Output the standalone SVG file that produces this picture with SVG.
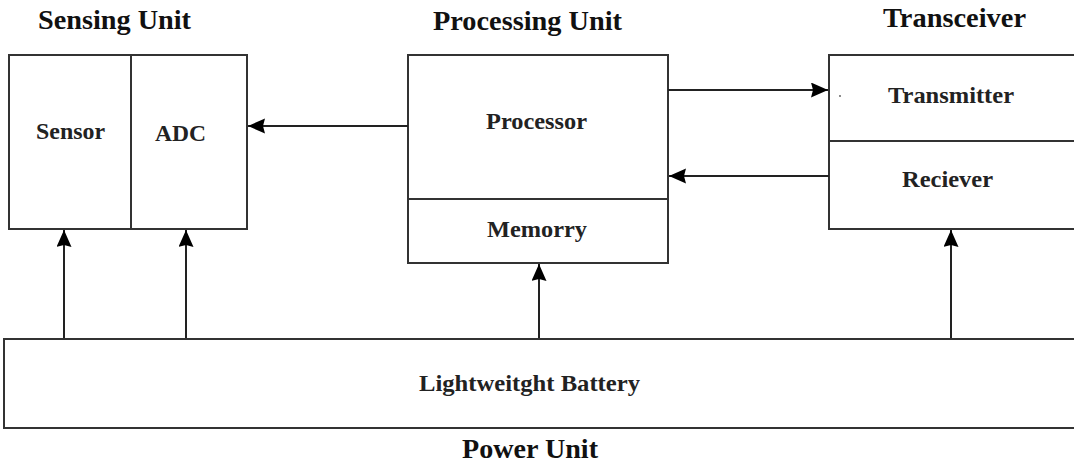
<svg xmlns="http://www.w3.org/2000/svg" width="1074" height="463" viewBox="0 0 1074 463">
  <style>
    .box { fill: #ffffff; stroke: #333333; stroke-width: 2; }
    .div { stroke: #333333; stroke-width: 2; fill: none; }
    .title { font-family: "Liberation Serif", "Times New Roman", serif; font-weight: bold; font-size: 27px; fill: #111111; }
    .lbl { font-family: "Liberation Serif", "Times New Roman", serif; font-weight: bold; font-size: 24px; fill: #222222; }
    .conn { stroke: #222222; stroke-width: 2; fill: none; }
  </style>
  <defs>
    <marker id="arrow" markerUnits="userSpaceOnUse" markerWidth="18" markerHeight="16" refX="17" refY="7.5" orient="auto">
      <path d="M0,0 L17,7.5 L0,15 L2,7.5 z" fill="#000000"/>
    </marker>
  </defs>
  <rect width="1074" height="463" fill="#ffffff"/>

  <g id="sensing-unit">
    <text class="title" x="38" y="29" textLength="153" lengthAdjust="spacingAndGlyphs">Sensing Unit</text>
    <rect class="box" x="9" y="55" width="238" height="174"/>
    <line class="div" x1="131" y1="55" x2="131" y2="229"/>
    <text class="lbl" x="36" y="139" textLength="69" lengthAdjust="spacingAndGlyphs">Sensor</text>
    <text class="lbl" x="155" y="141" textLength="51" lengthAdjust="spacingAndGlyphs">ADC</text>
  </g>

  <g id="processing-unit">
    <text class="title" x="433" y="30" textLength="189" lengthAdjust="spacingAndGlyphs">Processing Unit</text>
    <rect class="box" x="408" y="55" width="260" height="208"/>
    <line class="div" x1="408" y1="199" x2="668" y2="199"/>
    <text class="lbl" x="486" y="129" textLength="101" lengthAdjust="spacingAndGlyphs">Processor</text>
    <text class="lbl" x="487" y="237" textLength="100" lengthAdjust="spacingAndGlyphs">Memorry</text>
  </g>

  <g id="transceiver">
    <text class="title" x="883" y="27" textLength="143" lengthAdjust="spacingAndGlyphs">Transceiver</text>
    <rect class="box" x="829" y="55" width="260" height="174"/>
    <line class="div" x1="829" y1="141" x2="1074" y2="141"/>
    <circle cx="840" cy="96" r="0.9" fill="#555555"/>
    <text class="lbl" x="888" y="103" textLength="126" lengthAdjust="spacingAndGlyphs">Transmitter</text>
    <text class="lbl" x="902" y="187" textLength="91" lengthAdjust="spacingAndGlyphs">Reciever</text>
  </g>

  <g id="power-unit">
    <rect class="box" x="4" y="339" width="1085" height="89"/>
    <text class="lbl" x="419" y="391" textLength="221" lengthAdjust="spacingAndGlyphs">Lightweitght Battery</text>
    <text class="title" x="462" y="458" textLength="136" lengthAdjust="spacingAndGlyphs">Power Unit</text>
  </g>

  <g id="connectors">
    <line class="conn" x1="408" y1="126" x2="248" y2="126" marker-end="url(#arrow)"/>
    <line class="conn" x1="668" y1="90" x2="828" y2="90" marker-end="url(#arrow)"/>
    <line class="conn" x1="829" y1="176" x2="669" y2="176" marker-end="url(#arrow)"/>
    <line class="conn" x1="64" y1="338" x2="64" y2="230" marker-end="url(#arrow)"/>
    <line class="conn" x1="186" y1="338" x2="186" y2="230" marker-end="url(#arrow)"/>
    <line class="conn" x1="539" y1="338" x2="539" y2="264" marker-end="url(#arrow)"/>
    <line class="conn" x1="951" y1="338" x2="951" y2="230" marker-end="url(#arrow)"/>
  </g>
</svg>
